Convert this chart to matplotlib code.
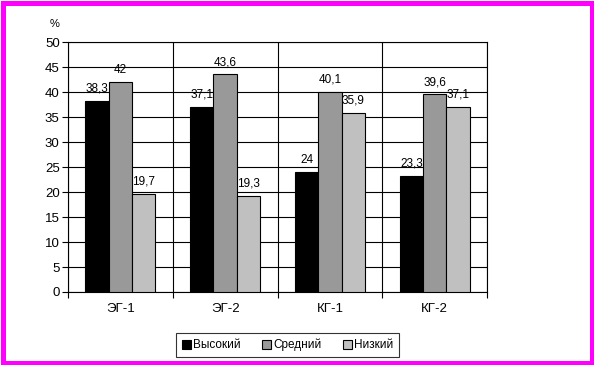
"""Bar chart of levels (high / medium / low) per group."""

import matplotlib

matplotlib.use("Agg")

import matplotlib.pyplot as plt
from matplotlib.patches import Rectangle

plt.rcParams["font.family"] = ["Liberation Sans", "DejaVu Sans"]

groups = ["ЭГ-1", "ЭГ-2", "КГ-1", "КГ-2"]
series_names = ["Высокий", "Средний", "Низкий"]
high = [38.3, 37.1, 24.0, 23.3]
medium = [42.0, 43.6, 40.1, 39.6]
low = [19.7, 19.3, 35.9, 37.1]
y_ticks = [0, 5, 10, 15, 20, 25, 30, 35, 40, 45, 50]

SERIES_COLORS = ["#000000", "#999999", "#c0c0c0"]

W, H = 594, 365
fig = plt.figure(figsize=(W / 100, H / 100), dpi=100)
ax = fig.add_axes([68 / W, 1 - 292 / H, (487 - 68) / W, (292 - 42) / H])

bar_w = 1 / 4.5
positions = list(range(len(groups)))
for k, (name, values) in enumerate(zip(series_names, [high, medium, low])):
    xs = [p + (k - 1) * bar_w for p in positions]
    bars = ax.bar(
        xs, values, width=bar_w, color=SERIES_COLORS[k],
        edgecolor="black", linewidth=0.8, label=name, zorder=3,
    )
    labels = [f"{v:g}".replace(".", ",") for v in values]
    ax.bar_label(bars, labels=labels, padding=4, fontsize=8.5, zorder=4)

ax.set_xlim(-0.5, len(groups) - 0.5)
ax.set_ylim(0, 50)
ax.set_yticks(y_ticks)
ax.set_yticklabels([str(t) for t in y_ticks], fontsize=9.5)

boundaries = [p - 0.5 for p in positions] + [len(groups) - 0.5]
ax.set_xticks(boundaries)
ax.set_xticklabels([""] * len(boundaries))
ax.set_xticks(positions, minor=True)
ax.set_xticklabels(groups, minor=True, fontsize=9.5)
ax.tick_params(axis="x", which="minor", length=0, pad=8)
ax.tick_params(axis="x", which="major", length=4, width=0.8, direction="out")
ax.tick_params(axis="y", length=4, width=0.8, direction="out", pad=2)

ax.grid(True, axis="y", color="black", linewidth=0.8, zorder=1)
ax.grid(True, axis="x", which="major", color="black", linewidth=0.8, zorder=1)
ax.set_axisbelow(True)
for spine in ax.spines.values():
    spine.set_linewidth(0.8)
    spine.set_color("black")

fig.text(55 / W, 1 - 24 / H, "%", fontsize=8, ha="center", va="center")

leg = fig.legend(
    loc="upper center", bbox_to_anchor=(287.5 / W, 1 - 333 / H), ncol=3,
    fontsize=8.5, frameon=True, fancybox=False, edgecolor="black",
    handlelength=0.8, handleheight=0.8, handletextpad=0.15,
    columnspacing=1.8, borderpad=0.5, borderaxespad=0,
)
leg.get_frame().set_linewidth(0.8)

fig.patches.append(
    Rectangle(
        (2.5 / W, 2.5 / H), 1 - 5 / W, 1 - 5 / H, transform=fig.transFigure,
        fill=False, edgecolor="#ff00ff", linewidth=3.6, figure=fig,
    )
)

fig.savefig("out.png", dpi=100)
